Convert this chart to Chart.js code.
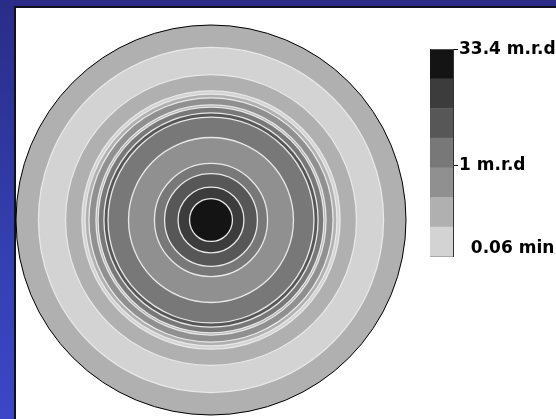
<!DOCTYPE html>
<html>
<head>
<meta charset="utf-8">
<script src="https://cdn.jsdelivr.net/npm/chart.js@4/dist/chart.umd.min.js"></script>
<style>
  html, body { margin: 0; padding: 0; }
  body {
    width: 556px; height: 419px; overflow: hidden; position: relative;
    background: linear-gradient(to bottom, #2a2c88 0%, #3340b0 60%, #3c46c8 100%);
  }
  #panel {
    position: absolute; left: 14px; top: 6px; right: 0; bottom: 0;
    background: #fff; border-left: 2px solid #101020; border-top: 2px solid #101020;
  }
  #pole { position: absolute; left: 11px; top: 20px; }
  #bar { position: absolute; left: 420px; top: 38px; }
</style>
</head>
<body>
<div id="panel"></div>
<canvas id="pole" width="400" height="400"></canvas>
<canvas id="bar" width="136" height="230"></canvas>
<script>
// contour levels, lightest (0) to darkest (6)
var levelColors = ['#d3d3d3', '#b0b0b0', '#909090', '#787878', '#575757', '#3c3c3c', '#141414'];

// rings of the pole figure, outer radius (1 = rim) and contour level, outside in
var ringRadius = [1.000, 0.885, 0.746, 0.662, 0.646, 0.626, 0.590, 0.579, 0.549, 0.528, 0.423, 0.290, 0.238, 0.169, 0.110];
var ringLevel  = [1, 0, 1, 0, 1, 2, 1, 3, 4, 3, 2, 3, 4, 5, 6];

// colour bar labels
var legendTickValues = [7, 3.08, 0.28];
var legendTickLabels = ['33.4 m.r.d', '1 m.r.d', '  0.06 min'];

function radiusPx(ctx) {
  var x = ctx.chart.scales.x;
  return Math.abs(x.getPixelForValue(ctx.raw.r) - x.getPixelForValue(0));
}

new Chart(document.getElementById('pole'), {
  type: 'scatter',
  data: {
    datasets: [{
      data: ringRadius.map(function(r) { return { x: 0, y: 0, r: r }; }),
      pointRadius: radiusPx,
      pointBackgroundColor: function(ctx) { return levelColors[ringLevel[ctx.dataIndex]]; },
      pointBorderColor: function(ctx) { return ctx.dataIndex === 0 ? '#000' : '#e8e8e8'; },
      pointBorderWidth: function(ctx) { return ctx.dataIndex === 0 ? 1 : 1.3; },
      clip: false
    }]
  },
  options: {
    responsive: false,
    animation: false,
    events: [],
    layout: { padding: 5 },
    plugins: { legend: { display: false }, tooltip: { enabled: false } },
    scales: {
      x: { display: false, min: -1, max: 1 },
      y: { display: false, min: -1, max: 1 }
    }
  }
});

new Chart(document.getElementById('bar'), {
  type: 'bar',
  data: {
    labels: [''],
    datasets: levelColors.map(function(c) {
      return { data: [1], backgroundColor: c, borderWidth: 0, barPercentage: 1, categoryPercentage: 1 };
    })
  },
  options: {
    responsive: false,
    animation: false,
    events: [],
    layout: { padding: { left: 10, top: 10, bottom: 11, right: 0 } },
    plugins: { legend: { display: false }, tooltip: { enabled: false } },
    scales: {
      x: {
        stacked: true,
        grid: { display: false },
        ticks: { display: false },
        border: { display: true, color: '#333' },
        afterFit: function(s) { s.height = 0; }
      },
      y: {
        stacked: true,
        position: 'right',
        min: 0, max: 7,
        afterBuildTicks: function(s) { s.ticks = legendTickValues.map(function(v) { return { value: v }; }); },
        ticks: {
          callback: function(v, i) { return legendTickLabels[i]; },
          color: '#000',
          padding: 1,
          font: { family: 'DejaVu Sans', weight: 'bold', size: 17 }
        },
        grid: {
          drawOnChartArea: false,
          tickLength: 5,
          tickColor: function(ctx) { return ctx.index === 2 ? 'rgba(0,0,0,0)' : '#000'; }
        },
        border: { display: true, color: '#333' },
        afterFit: function(s) { s.width = 103; }
      },
      yl: {
        axis: 'y',
        position: 'left',
        ticks: { display: false },
        grid: { display: false },
        border: { display: true, color: '#333' },
        afterFit: function(s) { s.width = 0; }
      }
    }
  }
});
</script>
</body>
</html>
